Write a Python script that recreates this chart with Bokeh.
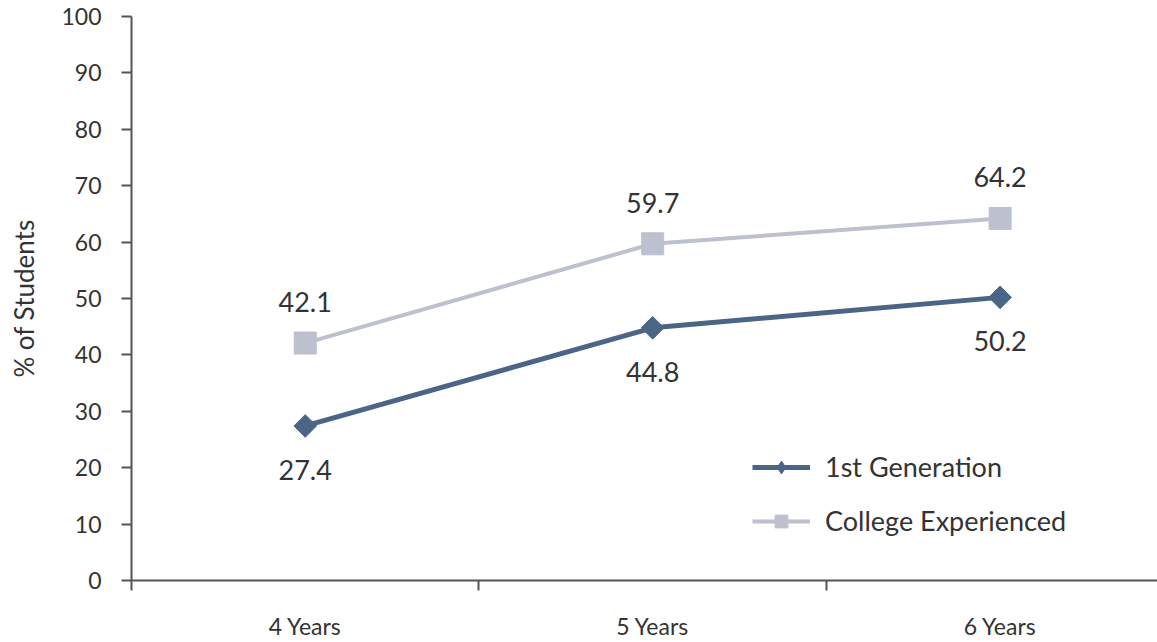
import math
from bokeh.plotting import figure
from bokeh.models import ColumnDataSource, Range1d, FixedTicker, Legend, LegendItem, LabelSet
from bokeh.core.properties import value
from bokeh.embed import file_html
from bokeh.resources import INLINE

categories = ["4 Years", "5 Years", "6 Years"]
first_gen = [27.4, 44.8, 50.2]
college_exp = [42.1, 59.7, 64.2]
y_ticks = [0, 10, 20, 30, 40, 50, 60, 70, 80, 90, 100]

FONT = "Lato"
DARK = "#4a6585"
LIGHT = "#bdc0ce"
TEXT = "#333333"

xs = [i + 0.5 for i in range(len(categories))]

p = figure(width=1157, height=642, output_backend="svg", toolbar_location=None,
           x_range=Range1d(0, 2.953), y_range=Range1d(0, 100),
           min_border_left=131, min_border_right=0, min_border_top=16, min_border_bottom=61)
p.outline_line_color = None
p.xgrid.visible = False
p.ygrid.visible = False
p.background_fill_color = "white"

src1 = ColumnDataSource(dict(x=xs, y=first_gen, lab=[f"{v:.1f}" for v in first_gen]))
src2 = ColumnDataSource(dict(x=xs, y=college_exp, lab=[f"{v:.1f}" for v in college_exp]))

l2 = p.line("x", "y", source=src2, line_color=LIGHT, line_width=4)
m2 = p.scatter("x", "y", source=src2, marker="square", size=22, fill_color=LIGHT, line_color=LIGHT)
l1 = p.line("x", "y", source=src1, line_color=DARK, line_width=5)
# diamond used for the legend glyph (hidden under the data markers)
m1_leg = p.scatter("x", "y", source=src1, marker="diamond", size=20, fill_color=DARK, line_color=DARK)
m1 = p.scatter("x", "y", source=src1, marker="square", angle=math.pi / 4, size=16,
               fill_color=DARK, line_color=DARK)

p.add_layout(LabelSet(x="x", y="y", text="lab", source=src2, y_offset=41, text_align="center",
                      text_baseline="middle", text_font=value(FONT), text_font_size="27px", text_color=TEXT))
p.add_layout(LabelSet(x="x", y="y", text="lab", source=src1, y_offset=-44, text_align="center",
                      text_baseline="middle", text_font=value(FONT), text_font_size="27px", text_color=TEXT))

# axes
p.yaxis.ticker = FixedTicker(ticks=y_ticks)
p.yaxis.axis_label = "% of Students"
p.yaxis.axis_label_text_font = FONT
p.yaxis.axis_label_text_font_size = "26px"
p.yaxis.axis_label_text_font_style = "normal"
p.yaxis.axis_label_text_color = TEXT
p.yaxis.axis_label_standoff = 18
p.yaxis.major_label_text_font = FONT
p.yaxis.major_label_text_font_size = "23px"
p.yaxis.major_label_text_color = TEXT
p.yaxis.major_tick_out = 10
p.yaxis.major_tick_in = 0
p.yaxis.minor_tick_out = 0
p.yaxis.minor_tick_in = 0
p.yaxis.major_label_standoff = 20
p.yaxis.axis_line_width = 2
p.yaxis.axis_line_color = "#555555"
p.yaxis.major_tick_line_color = "#555555"
p.yaxis.major_tick_line_width = 2

p.xaxis.ticker = FixedTicker(ticks=xs, minor_ticks=[0, 1, 2, 3])
p.xaxis.major_label_overrides = {x: c for x, c in zip(xs, categories)}
p.xaxis.major_label_text_font = FONT
p.xaxis.major_label_text_font_size = "23px"
p.xaxis.major_label_text_color = TEXT
p.xaxis.major_tick_out = 0
p.xaxis.major_tick_in = 0
p.xaxis.minor_tick_out = 10
p.xaxis.minor_tick_in = 0
p.xaxis.minor_tick_line_color = "#555555"
p.xaxis.minor_tick_line_width = 2
p.xaxis.major_label_standoff = 21
p.xaxis.axis_line_width = 2
p.xaxis.axis_line_color = "#555555"

legend = Legend(items=[LegendItem(label="1st Generation", renderers=[l1, m1_leg]),
                       LegendItem(label="College Experienced", renderers=[l2, m2])],
                location=(621, 43), orientation="vertical")
legend.background_fill_alpha = 0
legend.border_line_color = None
legend.label_text_font = FONT
legend.label_text_font_size = "27px"
legend.label_text_color = TEXT
legend.glyph_width = 58
legend.glyph_height = 32
legend.label_standoff = 15
legend.label_height = 32
legend.spacing = 21
legend.padding = 0
legend.margin = 0
p.add_layout(legend, "center")

open("out.html", "w").write(file_html(p, INLINE))
